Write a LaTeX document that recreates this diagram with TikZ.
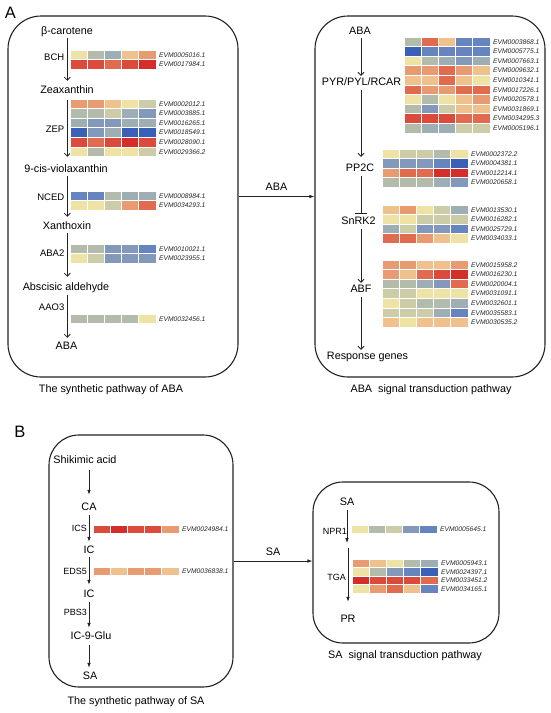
\documentclass[tikz,border=0pt]{standalone}
\usepackage{fontspec}
\setmainfont{Liberation Sans}
\usetikzlibrary{arrows.meta}
\definecolor{cR5}{HTML}{D42D2A}
\definecolor{cR4}{HTML}{DB4A3A}
\definecolor{cR3}{HTML}{E06B4E}
\definecolor{cR2}{HTML}{E89A70}
\definecolor{cR1}{HTML}{EFC18C}
\definecolor{cY}{HTML}{EFE2A5}
\definecolor{cG0}{HTML}{CDCCA8}
\definecolor{cG1}{HTML}{B3BCAA}
\definecolor{cB1}{HTML}{9DAFB5}
\definecolor{cB2}{HTML}{8299BC}
\definecolor{cB3}{HTML}{6685BF}
\definecolor{cB4}{HTML}{3A60B8}
\definecolor{lineC}{HTML}{222222}
\newcommand\hmrow[5]{% x, y, name, label, colours
  \foreach \cc [count=\ii from 0] in {#5}{%
    \fill[\cc] ({#1+\ii*\cw},{#2}) rectangle ++(\cw,\ch);
    \draw[white,line width=0.7pt] ({#1+\ii*\cw},{#2}) rectangle ++(\cw,\ch);
  }
  \node[gene] (#3) at ({#1+5*\cw+3},{#2+\ch/2}) {#4};
}
\begin{document}
\begin{tikzpicture}[x=1pt,y=-1pt,
  main/.style={font=\fontsize{10.8}{12}\selectfont, inner sep=0pt, text height=7.8pt, text depth=2.3pt},
  enz/.style={font=\fontsize{9.5}{11}\selectfont, inner sep=0pt, anchor=east},
  enzb/.style={font=\fontsize{9}{11}\selectfont, inner sep=0pt, anchor=east},
  gene/.style={font=\fontsize{6.7}{8}\selectfont\itshape, inner sep=0pt, anchor=west, text=black!85},
  panel/.style={font=\fontsize{16.5}{18}\selectfont, inner sep=0pt},
  box/.style={draw=lineC, line width=1.1pt, rounded corners=33pt, inner sep=0pt},
  arrA/.style={draw=lineC, line width=0.8pt, -{Straight Barb[length=3pt,width=6pt]}},
  arrB/.style={draw=lineC, line width=0.8pt, -{Latex[length=5pt,width=3.6pt]}},
  inhib/.style={draw=lineC, line width=0.8pt, -{Bar[width=12pt,line width=0.8pt]}}
]
\useasboundingbox (0,0) rectangle (550,713);
\fill[white] (0,0) rectangle (550,713);

% ---------------- Panel A ----------------
\node[panel] (lA) at (10.5,12.5) {A};
\node[box, minimum width=230pt, minimum height=361pt] (boxAL) at (123,196.5) {};
\node[box, minimum width=230pt, minimum height=361pt] (boxAR) at (430,196.5) {};
\draw[arrB] (boxAL.east) -- (boxAR.west) node[midway, above=3pt, main] (abaLbl) {ABA};
\node[main] (capAL) at (111,390) {The synthetic pathway of ABA};
\node[main] (capAR) at (431,390) {ABA\ \ signal transduction pathway};

% left chain
\node[main] (bc) at (67,32) {β-carotene};
\node[main] (zea) at (67,91) {Zeaxanthin};
\node[main] (vio) at (66,170) {9-cis-violaxanthin};
\node[main] (xan) at (67,227) {Xanthoxin};
\node[main] (abs) at (66,288) {Abscisic aldehyde};
\node[main] (abaL) at (66.5,347) {ABA};
\coordinate (axL) at (67.3,0);
\draw[arrA, shorten <=1pt, shorten >=5pt] (bc.south -| axL) -- (zea.north -| axL);
\draw[arrA, shorten <=4pt, shorten >=8pt] (zea.south -| axL) -- (vio.north -| axL);
\draw[arrA, shorten <=1pt, shorten >=5pt] (vio.south -| axL) -- (xan.north -| axL);
\draw[arrA, shorten <=1pt, shorten >=6pt] (xan.south -| axL) -- (abs.north -| axL);
\draw[arrA, shorten <=2pt, shorten >=4pt] (abs.south -| axL) -- (abaL.north -| axL);

\node[enz] (bch) at (64.5,57) {BCH};
\node[enz] (zep) at (64.5,129) {ZEP};
\node[enz] (nced) at (64.5,197) {NCED};
\node[enz] (aba2) at (64.5,253) {ABA2};
\node[enz] (aao3) at (64.5,307) {AAO3};

\def\cw{17.2}\def\ch{9.6}
\hmrow{70}{50}{g1}{EVM0005016.1}{cY,cG1,cB1,cR1,cR2}
\hmrow{70}{59.6}{g2}{EVM0017984.1}{cR4,cR4,cR3,cR4,cR5}
\hmrow{70}{99}{g3}{EVM0002012.1}{cR2,cR2,cR1,cY,cG0}
\hmrow{70}{108.6}{g4}{EVM0003885.1}{cG1,cG1,cG0,cB1,cB2}
\hmrow{70}{118.2}{g5}{EVM0016265.1}{cB1,cB2,cB2,cB1,cB1}
\hmrow{70}{127.8}{g6}{EVM0018549.1}{cB4,cB2,cB1,cB4,cB4}
\hmrow{70}{137.4}{g7}{EVM0028090.1}{cR4,cR3,cR4,cR5,cR4}
\hmrow{70}{147}{g8}{EVM0029366.2}{cY,cG1,cY,cY,cG0}
\hmrow{70}{191}{g9}{EVM0008984.1}{cB3,cB3,cG1,cB1,cB1}
\hmrow{70}{200.6}{g10}{EVM0034293.1}{cY,cY,cG0,cR2,cR3}
\hmrow{70}{244}{g11}{EVM0010021.1}{cG1,cG1,cB2,cB2,cB3}
\hmrow{70}{253.6}{g12}{EVM0023955.1}{cY,cG0,cB2,cB2,cB2}
\hmrow{70}{314}{g13}{EVM0032456.1}{cG1,cG1,cG1,cG1,cY}

% right chain
\node[main] (abaR) at (360,32) {ABA};
\node[main] (pyr) at (361.5,83) {PYR/PYL/RCAR};
\node[main] (pp2c) at (360,169) {PP2C};
\node[main] (snrk) at (358.5,222) {SnRK2};
\node[main] (abf) at (361,290) {ABF};
\node[main] (resp) at (367.5,357) {Response genes};
\coordinate (axR) at (361,0);
\draw[arrA, shorten <=1pt, shorten >=2pt] (abaR.south -| axR) -- (pyr.north -| axR);
\draw[arrA, shorten <=2pt, shorten >=7pt] (pyr.south -| axR) -- (pp2c.north -| axR);
\draw[inhib, shorten <=2pt, shorten >=3pt] (pp2c.south -| axR) -- (snrk.north -| axR);
\draw[arrA, shorten <=2pt, shorten >=2pt] (snrk.south -| axR) -- (abf.north -| axR);
\draw[arrA, shorten <=2pt, shorten >=2pt] (abf.south -| axR) -- (resp.north -| axR);

\hmrow{404}{37}{p1}{EVM0003868.1}{cG1,cR3,cR1,cB3,cB3}
\hmrow{404}{46.6}{p2}{EVM0005775.1}{cB4,cB3,cB3,cB3,cB3}
\hmrow{404}{56.2}{p3}{EVM0007663.1}{cY,cG1,cB1,cB2,cB1}
\hmrow{404}{65.8}{p4}{EVM0009632.1}{cR2,cR2,cR3,cR2,cR1}
\hmrow{404}{75.4}{p5}{EVM0010341.1}{cR1,cR1,cR3,cR1,cY}
\hmrow{404}{85}{p6}{EVM0017226.1}{cR3,cR2,cR2,cR3,cR3}
\hmrow{404}{94.6}{p7}{EVM0020578.1}{cY,cG1,cY,cR1,cR2}
\hmrow{404}{104.2}{p8}{EVM0031869.1}{cG1,cB2,cG0,cR1,cR1}
\hmrow{404}{113.8}{p9}{EVM0034295.3}{cR4,cR4,cR4,cR3,cR3}
\hmrow{404}{123.4}{p10}{EVM0005196.1}{cG1,cB1,cB1,cG0,cG0}

\hmrow{382}{149}{q1}{EVM0002372.2}{cY,cG0,cG0,cG1,cY}
\hmrow{382}{158.6}{q2}{EVM0004381.1}{cB2,cB2,cB2,cB3,cB4}
\hmrow{382}{168.2}{q3}{EVM0012214.1}{cR2,cR3,cR3,cR5,cR5}
\hmrow{382}{177.8}{q4}{EVM0020658.1}{cG1,cG1,cG1,cB1,cB2}

\hmrow{382}{205}{s1}{EVM0013530.1}{cR1,cR2,cY,cG0,cB1}
\hmrow{382}{214.6}{s2}{EVM0016282.1}{cY,cY,cG0,cG0,cG0}
\hmrow{382}{224.2}{s3}{EVM0025729.1}{cB1,cG0,cB2,cB2,cB3}
\hmrow{382}{233.8}{s4}{EVM0034033.1}{cR3,cR3,cR2,cR1,cY}

\hmrow{382}{260}{f1}{EVM0015958.2}{cR2,cR2,cR1,cR1,cR2}
\hmrow{382}{269.6}{f2}{EVM0016230.1}{cR2,cR1,cR3,cR4,cR5}
\hmrow{382}{279.2}{f3}{EVM0020004.1}{cG1,cG1,cB1,cB2,cR3}
\hmrow{382}{288.8}{f4}{EVM0031091.1}{cG0,cG0,cY,cY,cY}
\hmrow{382}{298.4}{f5}{EVM0032601.1}{cY,cG0,cG1,cG1,cB1}
\hmrow{382}{308}{f6}{EVM0035583.1}{cG0,cG0,cG0,cB1,cB3}
\hmrow{382}{317.6}{f7}{EVM0030535.2}{cR1,cY,cR1,cR1,cR1}

% ---------------- Panel B ----------------
\node[panel] (lB) at (20,432) {B};
\node[box, rounded corners=30pt, minimum width=184pt, minimum height=252pt] (boxBL) at (141,561) {};
\node[box, rounded corners=30pt, minimum width=186pt, minimum height=161pt] (boxBR) at (406,562.5) {};
\draw[arrB] (boxBL.east) -- (boxBR.west |- boxBL.east) node[midway, above=3pt, main] (saLbl) {SA};
\node[main] (capBL) at (136,702) {The synthetic pathway of SA};
\node[main] (capBR) at (405,656) {SA\ \ signal transduction pathway};

\node[main] (shik) at (85,461) {Shikimic acid};
\node[main] (ca) at (89,508) {CA};
\node[main] (ic1) at (89,551) {IC};
\node[main] (ic2) at (89,595) {IC};
\node[main] (glu) at (91,637) {IC-9-Glu};
\node[main] (saL) at (90,677) {SA};
\coordinate (axB) at (89,0);
\draw[arrB, shorten <=4pt, shorten >=8pt] (shik.south -| axB) -- (ca.north -| axB);
\draw[arrB, shorten <=2pt, shorten >=4pt] (ca.south -| axB) -- (ic1.north -| axB);
\draw[arrB, shorten <=1pt, shorten >=5pt] (ic1.south -| axB) -- (ic2.north -| axB);
\draw[arrB, shorten <=2pt, shorten >=4pt] (ic2.south -| axB) -- (glu.north -| axB);
\draw[arrB, shorten <=3pt, shorten >=4pt] (glu.south -| axB) -- (saL.north -| axB);

\node[enzb] (ics) at (87,528) {ICS};
\node[enzb] (eds5) at (87,571) {EDS5};
\node[enzb] (pbs3) at (87,612) {PBS3};

\def\ch{8}
\hmrow{93}{525}{b1}{EVM0024984.1}{cR4,cR5,cR4,cR4,cR2}
\hmrow{93}{567}{b2}{EVM0036838.1}{cR2,cR1,cR2,cR2,cR1}

\node[main] (saR) at (347,503) {SA};
\node[main] (pr) at (348,620) {PR};
\coordinate (n1) at (347,543);
\coordinate (t1) at (348,548);
\draw[arrB, shorten <=2pt] (saR.south) -- (n1);
\draw[arrB, shorten >=13pt] (t1) -- (pr.north);
\node[enzb] (npr1) at (347,531) {NPR1};
\node[enzb] (tga) at (346,577) {TGA};

\hmrow{351}{525}{n2}{EVM0005645.1}{cY,cG1,cG0,cB2,cB3}
\def\ch{8.5}
\hmrow{352}{559}{t2}{EVM0005943.1}{cR2,cR1,cY,cG1,cB1}
\hmrow{352}{567.5}{t3}{EVM0024397.1}{cY,cG1,cB2,cB3,cB4}
\hmrow{352}{576}{t4}{EVM0033451.2}{cR5,cR4,cR4,cR4,cR3}
\hmrow{352}{584.5}{t5}{EVM0034165.1}{cY,cR2,cR3,cR1,cB3}
\end{tikzpicture}
\end{document}
